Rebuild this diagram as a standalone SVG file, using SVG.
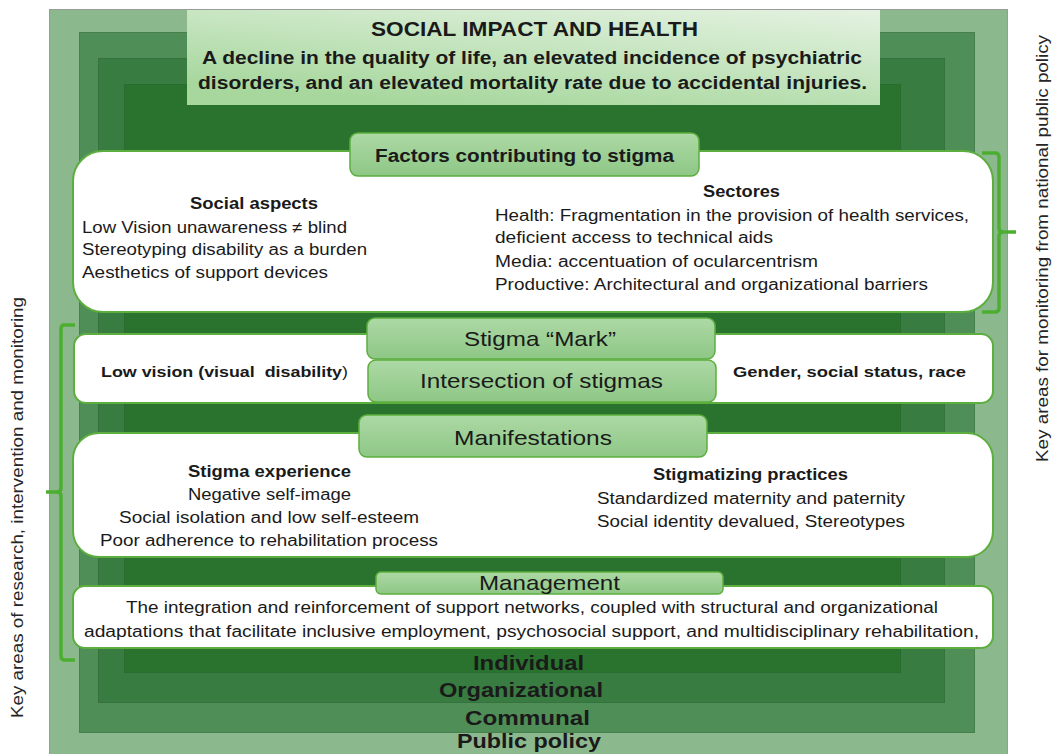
<svg xmlns="http://www.w3.org/2000/svg" width="1052" height="754" viewBox="0 0 1052 754">
<defs>
<linearGradient id="gTitle" x1="1" y1="0" x2="0.35" y2="1">
<stop offset="0" stop-color="#e4f2e1"/>
<stop offset="0.5" stop-color="#c6e5c0"/>
<stop offset="1" stop-color="#a7d79d"/>
</linearGradient>
<linearGradient id="gTab" x1="0" y1="0" x2="0" y2="1">
<stop offset="0" stop-color="#add9a5"/>
<stop offset="1" stop-color="#8ec786"/>
</linearGradient>
<style>
text{font-family:"Liberation Sans",Arial,sans-serif;fill:#1a1a1a}
.b{font-weight:bold}
.m{text-anchor:middle}
.s16{font-size:16px}
.s15{font-size:15px}
.s18{font-size:18px}
.s20{font-size:20px}
.s21{font-size:21px}
.box{fill:#ffffff;stroke:#5cae3e;stroke-width:2}
.tab{fill:url(#gTab);stroke:#5cae3e;stroke-width:1.5}
.br{fill:none;stroke:#4cae30;stroke-width:3.5}
.side{font-size:16px;fill:#262626;text-anchor:middle}
</style>
</defs>

<g id="levels">
<rect x="49.5" y="9.5" width="958" height="760" fill="#8cb88e" stroke="#9a9a9a" stroke-width="1"/>
<rect x="79.5" y="32.5" width="895" height="700" fill="#4f8f57" stroke="#477f4e" stroke-width="1"/>
<rect x="98.5" y="58.5" width="846" height="644" fill="#397c42" stroke="#35723d" stroke-width="1"/>
<rect x="124.5" y="84.5" width="776" height="588" fill="#29732f" stroke="#2a6b30" stroke-width="1"/>
<text class="b s20 m" x="528.5" y="670" textLength="111" lengthAdjust="spacingAndGlyphs">Individual</text>
<text class="b s20 m" x="521" y="697" textLength="164" lengthAdjust="spacingAndGlyphs">Organizational</text>
<text class="b s20 m" x="527.5" y="725" textLength="125" lengthAdjust="spacingAndGlyphs">Communal</text>
<text class="b s20 m" x="529" y="748" textLength="144" lengthAdjust="spacingAndGlyphs">Public policy</text>
</g>

<g id="title">
<rect x="187" y="10" width="693" height="95" fill="url(#gTitle)"/>
<text class="b s21 m" x="534.5" y="36" textLength="327" lengthAdjust="spacingAndGlyphs">SOCIAL IMPACT AND HEALTH</text>
<text class="b s18 m" x="532" y="64" textLength="660" lengthAdjust="spacingAndGlyphs">A decline in the quality of life, an elevated incidence of psychiatric</text>
<text class="b s18 m" x="532.5" y="89" textLength="669" lengthAdjust="spacingAndGlyphs">disorders, and an elevated mortality rate due to accidental injuries.</text>
</g>

<g id="factors">
<rect class="box" x="73" y="151" width="920" height="161" rx="30"/>
<rect class="tab" x="350" y="133" width="349" height="43" rx="8"/>
<text class="b s18 m" x="524.5" y="162" textLength="299" lengthAdjust="spacingAndGlyphs">Factors contributing to stigma</text>
<text class="b s16 m" x="254" y="209" textLength="128" lengthAdjust="spacingAndGlyphs">Social aspects</text>
<text class="s16" x="82" y="233" textLength="265" lengthAdjust="spacingAndGlyphs">Low Vision unawareness ≠ blind</text>
<text class="s16" x="82" y="255" textLength="285" lengthAdjust="spacingAndGlyphs">Stereotyping disability as a burden</text>
<text class="s16" x="82" y="278" textLength="246" lengthAdjust="spacingAndGlyphs">Aesthetics of support devices</text>
<text class="b s16 m" x="741.5" y="197" textLength="77" lengthAdjust="spacingAndGlyphs">Sectores</text>
<text class="s16" x="495" y="221" textLength="474" lengthAdjust="spacingAndGlyphs">Health: Fragmentation in the provision of health services,</text>
<text class="s16" x="495" y="243" textLength="278" lengthAdjust="spacingAndGlyphs">deficient access to technical aids</text>
<text class="s16" x="495" y="267" textLength="323" lengthAdjust="spacingAndGlyphs">Media: accentuation of ocularcentrism</text>
<text class="s16" x="495" y="290" textLength="433" lengthAdjust="spacingAndGlyphs">Productive: Architectural and organizational barriers</text>
</g>

<g id="stigma">
<rect class="box" x="74" y="334" width="919" height="69" rx="12"/>
<rect class="tab" x="367" y="318" width="348" height="41" rx="8"/>
<rect class="tab" x="368" y="360" width="348" height="42" rx="8"/>
<text class="s21 m" x="540" y="346" textLength="152" lengthAdjust="spacingAndGlyphs">Stigma “Mark”</text>
<text class="s21 m" x="541.5" y="388" textLength="243" lengthAdjust="spacingAndGlyphs">Intersection of stigmas</text>
<text class="b s15" x="101" y="377" xml:space="preserve" textLength="247" lengthAdjust="spacingAndGlyphs">Low vision (visual  disability<tspan font-weight="normal">)</tspan></text>
<text class="b s15" x="733" y="377" textLength="233" lengthAdjust="spacingAndGlyphs">Gender, social status, race</text>
</g>

<g id="manifestations">
<rect class="box" x="73" y="433" width="920" height="124" rx="26"/>
<rect class="tab" x="359" y="415" width="348" height="42" rx="8"/>
<text class="s21 m" x="533" y="445" textLength="158" lengthAdjust="spacingAndGlyphs">Manifestations</text>
<text class="b s16 m" x="269.5" y="477" textLength="163" lengthAdjust="spacingAndGlyphs">Stigma experience</text>
<text class="s16 m" x="269.5" y="500" textLength="163" lengthAdjust="spacingAndGlyphs">Negative self-image</text>
<text class="s16 m" x="269" y="523" textLength="300" lengthAdjust="spacingAndGlyphs">Social isolation and low self-esteem</text>
<text class="s16 m" x="269" y="546" textLength="338" lengthAdjust="spacingAndGlyphs">Poor adherence to rehabilitation process</text>
<text class="b s16 m" x="750.5" y="480" textLength="195" lengthAdjust="spacingAndGlyphs">Stigmatizing practices</text>
<text class="s16 m" x="751" y="504" textLength="308" lengthAdjust="spacingAndGlyphs">Standardized maternity and paternity</text>
<text class="s16 m" x="751" y="527" textLength="308" lengthAdjust="spacingAndGlyphs">Social identity devalued, Stereotypes</text>
</g>

<g id="management">
<rect class="box" x="73" y="586" width="920" height="62" rx="12"/>
<rect class="tab" x="376" y="572" width="347" height="22" rx="5"/>
<text class="s21 m" x="549.5" y="590" textLength="141" lengthAdjust="spacingAndGlyphs">Management</text>
<text class="s16 m" x="532" y="613" textLength="812" lengthAdjust="spacingAndGlyphs">The integration and reinforcement of support networks, coupled with structural and organizational</text>
<text class="s16 m" x="531.5" y="637" textLength="895" lengthAdjust="spacingAndGlyphs">adaptations that facilitate inclusive employment, psychosocial support, and multidisciplinary rehabilitation,</text>
</g>

<g id="connectors">
<path class="br" d="M75 325 L64 325 Q61 325 61 329 L61 488 Q61 492 57 492 L46 492 M57 492 Q61 492 61 496 L61 656 Q61 660 65 660 L75 660"/>
<path class="br" d="M982 153 L995 153 Q999 153 999 157 L999 228 Q999 232 1003 232 L1016 232 M1003 232 Q999 232 999 236 L999 308 Q999 312 995 312 L982 312"/>
</g>

<g id="side-labels">
<text class="side" transform="translate(1048 248.5) rotate(-90)" textLength="427" lengthAdjust="spacingAndGlyphs">Key areas for monitoring from national public policy</text>
<text class="side" transform="translate(23 507.5) rotate(-90)" textLength="421" lengthAdjust="spacingAndGlyphs">Key areas of research, intervention and monitoring</text>
</g>
</svg>
